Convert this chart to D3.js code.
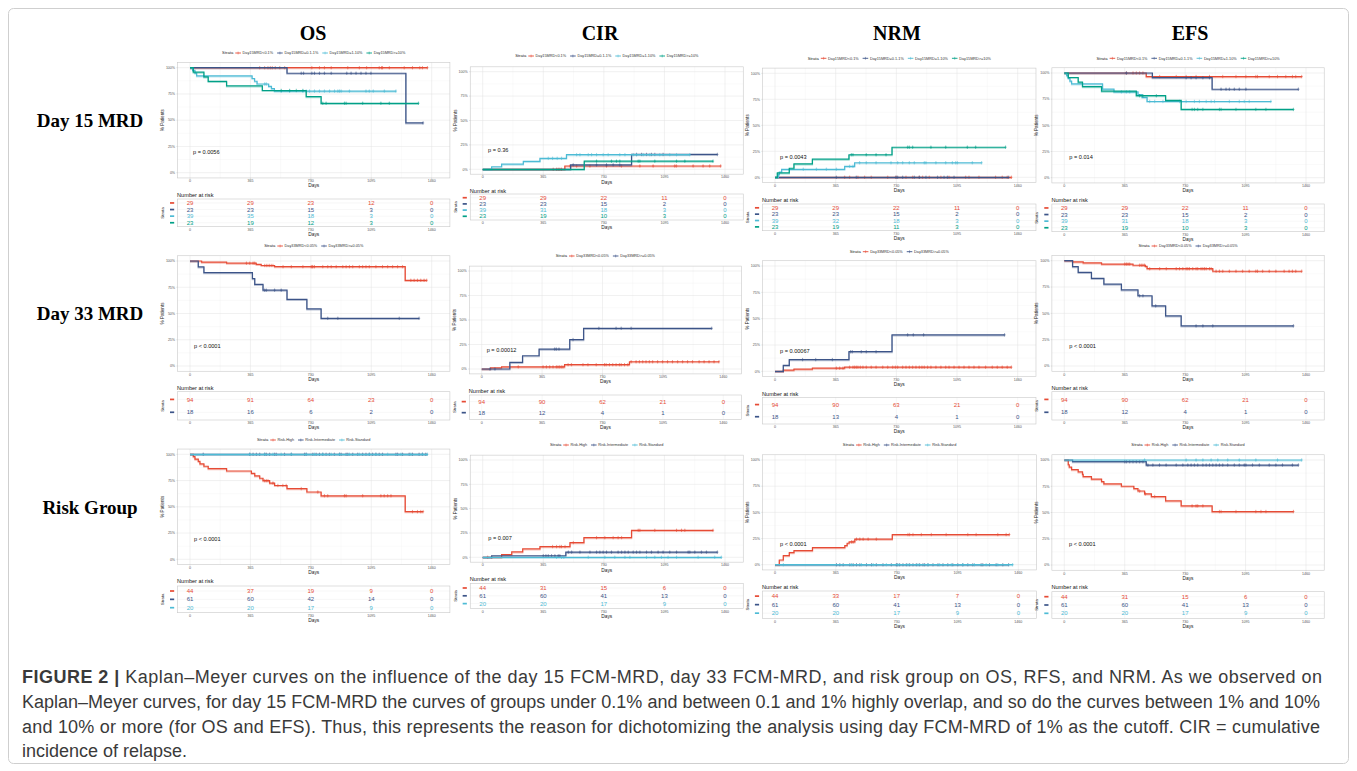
<!DOCTYPE html>
<html><head><meta charset="utf-8">
<script src="https://cdn.jsdelivr.net/npm/d3@7"></script>
<style>body{margin:0;background:#fff}</style>
</head><body>
<svg id="c" width="1357" height="771" xmlns="http://www.w3.org/2000/svg"></svg>
<script>
// ---------------- DATA ----------------
const columnTitles = ["OS", "CIR", "NRM", "EFS"];
const rowTitles = ["Day 15 MRD", "Day 33 MRD", "Risk Group"];
const strata15 = ["Day15MRD<0.1%", "Day15MRD=0.1-1%", "Day15MRD=1-10%", "Day15MRD>=10%"];
const strata33 = ["Day33MRD<0.05%", "Day33MRD>=0.05%"];
const strataRisk = ["Risk-High", "Risk-Intermediate", "Risk-Standard"];
const colors15 = ["#E64B35", "#3C5488", "#4DBBD5", "#00A087"];
const colors33 = ["#E64B35", "#3C5488"];
const colorsRisk = ["#E64B35", "#3C5488", "#4DBBD5"];
const timeTicks = [0, 365, 730, 1095, 1460];
const pctTicks = [0, 25, 50, 75, 100];
const pctLabels = ["0%", "25%", "50%", "75%", "100%"];
const pValues = ["p = 0.0056", "p = 0.36", "p = 0.0043", "p = 0.014",
                 "p < 0.0001", "p = 0.00012", "p = 0.00067", "p < 0.0001",
                 "p < 0.0001", "p = 0.007", "p < 0.0001", "p < 0.0001"];

// number at risk at 0,365,730,1095,1460
const risk_os15  = [[29,29,23,12,0],[23,23,15,3,0],[39,35,18,3,0],[23,19,12,3,0]];
const risk_cir15 = [[29,29,22,11,0],[23,23,15,2,0],[39,31,18,3,0],[23,19,10,3,0]];
const risk_nrm15 = [[29,29,22,11,0],[23,23,15,2,0],[39,32,18,3,0],[23,19,11,3,0]];
const risk_efs15 = [[29,29,22,11,0],[23,23,15,2,0],[39,31,18,3,0],[23,19,10,3,0]];
const risk_os33  = [[94,91,64,23,0],[18,16,6,2,0]];
const risk_cir33 = [[94,90,62,21,0],[18,12,4,1,0]];
const risk_nrm33 = [[94,90,63,21,0],[18,13,4,1,0]];
const risk_efs33 = [[94,90,62,21,0],[18,12,4,1,0]];
const risk_osR   = [[44,37,19,9,0],[61,60,42,14,0],[20,20,17,9,0]];
const risk_cirR  = [[44,31,15,6,0],[61,60,41,13,0],[20,20,17,9,0]];
const risk_nrmR  = [[44,33,17,7,0],[61,60,41,13,0],[20,20,17,9,0]];
const risk_efsR  = [[44,31,15,6,0],[61,60,41,13,0],[20,20,17,9,0]];

// curves: steps [day, %], end day, censor days
const os15 = [
 {steps:[], end:1434, cens:[421,451,471,485,497,515,542,572,736,782,812,853,953,1023,1067,1143,1157,1163,1204,1294,1344,1388,1404,1434]},
 {steps:[[586,94.7],[1304,47.4]], end:1408, cens:[672,686,736,752,782,812,853,947,973,1003,1033,1063,1093,1408]},
 {steps:[[16,97.4],[30,94.9],[40,92.3],[375,89.7],[390,87.1],[405,84.5],[475,82.2],[492,80.0],[510,77.7]], end:1244, cens:[451,461,551,602,682,702,722,752,782,812,843,873,893,903,913,963,1063,1083,1107,1174,1244]},
 {steps:[[20,95.7],[84,91.3],[110,87.0],[221,82.6],[437,78.3],[702,72.5],[792,66.1]], end:1380, cens:[551,602,642,682,802,822,933,943,1043,1153,1204,1380]}
];
const cir15 = [
 {steps:[[495,3.4]], end:1434, cens:[425,445,455,465,475,526,566,646,746,836,947,1027,1157,1167,1268,1328,1368,1434]},
 {steps:[[530,4.5],[897,15.2]], end:1414, cens:[545,686,746,786,826,927,957,987,1017,1037,1087,1414]},
 {steps:[[54,2.6],[114,5.3],[245,8.1],[345,11.2],[505,15.0]], end:1248, cens:[395,421,449,475,566,586,636,656,686,726,756,826,857,907,927,967,1007,1067,1127,1168,1248]},
 {steps:[[612,8.3]], end:1388, cens:[686,776,806,826,937,947,1037,1168,1218,1388]}
];
const nrm15 = [
 {steps:[], end:1422, cens:[419,449,499,539,579,678,728,788,828,868,888,928,998,1047,1147,1167,1227,1327,1367,1397,1422]},
 {steps:[], end:1406, cens:[369,489,728,738,768,838,868,908,978,1017,1037,1077,1406]},
 {steps:[[20,2.6],[26,5.1],[40,7.7],[419,10.5],[479,14.0]], end:1243, cens:[170,249,309,369,449,469,509,549,608,698,738,768,808,838,898,908,968,1027,1067,1087,1097,1187,1243]},
 {steps:[[14,4.3],[86,8.7],[114,13.0],[225,17.4],[445,21.7],[704,28.9]], end:1387, cens:[459,469,549,608,668,798,808,828,938,1027,1157,1207,1387]}
];
const efs15 = [
 {steps:[[495,96.6]], end:1434, cens:[375,415,435,455,475,576,676,736,796,877,957,1037,1097,1157,1167,1238,1288,1338,1378,1398,1434]},
 {steps:[[532,95.5],[893,84.5]], end:1414, cens:[375,736,766,796,837,877,947,977,997,1027,1057,1097,1414]},
 {steps:[[14,97.4],[24,94.9],[34,92.3],[44,89.7],[231,84.6],[300,82.0],[445,79.4],[470,76.8],[500,72.8]], end:1248, cens:[345,375,395,516,546,596,696,736,786,816,857,887,907,997,1057,1087,1117,1248]},
 {steps:[[24,95.7],[84,91.3],[110,87.0],[225,82.6],[435,78.3],[612,73.9],[706,65.2]], end:1384, cens:[455,475,556,772,786,806,837,937,947,1037,1157,1218,1384]}
];
const os33 = [
 {steps:[[70,98.9],[221,97.9],[400,96.8],[430,95.7],[511,94.6],[1300,81.6]], end:1430, cens:[341,361,381,391,451,461,471,481,491,501,562,612,682,732,738,742,752,802,832,853,883,923,943,963,983,1023,1043,1063,1083,1123,1163,1194,1224,1254,1284,1334,1354,1374,1394,1414,1430]},
 {steps:[[50,94.4],[84,88.9],[377,83.3],[391,77.8],[441,72.2],[586,63.5],[706,54.5],[792,45.4]], end:1384, cens:[451,461,511,551,832,893,1264,1384]}
];
const cir33 = [
 {steps:[[54,1.1],[120,2.2],[501,4.4],[893,7.4]], end:1434, cens:[221,371,391,411,431,451,461,471,481,491,522,542,612,642,692,742,752,772,792,812,832,843,863,883,903,933,953,973,993,1013,1033,1063,1093,1123,1153,1184,1214,1244,1274,1314,1344,1374,1404,1434]},
 {steps:[[170,6.8],[247,13.5],[347,20.3],[532,30.0],[616,41.5]], end:1390, cens:[50,80,441,451,467,552,708,812,843,903,1390]}
];
const nrm33 = [
 {steps:[[50,1.1],[114,2.1],[225,3.0],[419,3.9]], end:1422, cens:[369,389,409,449,469,479,489,499,513,529,549,579,608,648,678,708,724,738,768,788,808,828,848,868,884,898,918,938,968,998,1027,1047,1077,1107,1137,1167,1197,1227,1267,1307,1337,1367,1397,1422]},
 {steps:[[50,5.6],[86,11.1],[445,18.6],[704,34.6]], end:1381, cens:[166,245,345,455,465,519,549,608,798,832,894,1381]}
];
const efs33 = [
 {steps:[[50,98.9],[114,97.9],[225,96.8],[415,95.7],[490,94.6],[500,92.4],[897,90.0]], end:1434, cens:[365,375,385,395,455,465,475,485,516,576,616,676,696,716,736,746,756,776,796,806,826,837,847,857,877,887,917,937,957,997,1037,1077,1117,1157,1167,1198,1238,1278,1328,1358,1378,1398,1434]},
 {steps:[[50,94.4],[84,88.9],[164,83.3],[239,77.8],[345,72.2],[445,66.7],[530,57.1],[612,47.6],[706,38.1]], end:1384, cens:[455,475,552,796,837,897,1384]}
];
const osRisk = [
 {steps:[[20,97.7],[30,95.5],[50,93.2],[60,90.9],[84,88.6],[110,86.4],[221,84.1],[371,81.8],[391,79.5],[421,77.2],[441,74.9],[481,72.6],[511,70.3],[586,67.3],[706,64.1],[792,60.5],[1300,45.4]], end:1408, cens:[451,461,471,501,531,561,581,672,772,812,832,933,943,1043,1153,1173,1194,1214,1344,1374,1394,1408]},
 {steps:[], end:1434, cens:[80,361,381,401,421,451,461,481,511,521,571,612,692,702,742,762,782,802,822,842,872,903,913,943,953,983,1013,1043,1063,1083,1103,1123,1143,1163,1244,1254,1284,1324,1344,1384,1404,1424]},
 {steps:[], end:1434, cens:[361,451,501,551,612,702,752,802,853,903,963,1023,1083,1123,1194,1274,1334,1404,1434]}
];
const cirRisk = [
 {steps:[[114,2.7],[175,5.5],[241,8.6],[345,11.0],[526,15.1],[610,20.2],[897,27.7]], end:1388, cens:[30,54,421,445,465,475,496,546,686,736,786,816,837,937,947,1037,1168,1198,1218,1388]},
 {steps:[[54,1.6],[501,5.3]], end:1414, cens:[365,381,395,415,435,455,465,516,536,586,646,686,706,726,746,776,816,837,857,877,907,927,947,987,1017,1057,1087,1127,1168,1238,1248,1278,1318,1348,1414]},
 {steps:[], end:1438, cens:[445,475,489,636,736,796,857,887,987,1037,1077,1117,1168,1298,1398,1438]}
];
const nrmRisk = [
 {steps:[[26,4.5],[50,8.7],[86,11.5],[114,13.5],[225,16.3],[419,18.3],[433,20.5],[445,21.8],[479,24.4],[704,28.8]], end:1406, cens:[459,469,489,509,529,559,608,798,808,828,878,938,1027,1157,1207,1337,1387,1406]},
 {steps:[], end:1402, cens:[369,389,409,449,469,489,509,549,579,608,648,698,728,733,748,768,788,808,828,848,868,888,898,918,948,978,1008,1037,1067,1097,1127,1157,1187,1237,1247,1287,1327,1367,1402]},
 {steps:[], end:1426, cens:[50,459,519,589,668,738,798,858,918,988,1058,1127,1197,1267,1337,1426]}
];
const efsRisk = [
 {steps:[[24,95.5],[30,93.2],[44,90.9],[84,88.6],[110,86.4],[114,84.1],[164,81.8],[225,79.5],[239,77.3],[345,75.0],[420,72.7],[445,70.5],[485,67.8],[526,65.2],[612,61.0],[706,56.3],[893,50.9]], end:1384, cens:[455,490,546,772,796,806,837,937,947,1037,1157,1188,1218,1384]},
 {steps:[[50,98.4],[495,95.2]], end:1414, cens:[365,375,395,415,435,455,475,505,535,575,615,676,716,746,766,786,806,837,857,877,897,917,937,957,987,1027,1057,1087,1097,1137,1178,1238,1278,1318,1378,1414]},
 {steps:[], end:1434, cens:[485,736,796,837,887,927,987,1057,1157,1288,1434]}
];

const captionLines = [
 "Kaplan\u2013Meyer curves on the influence of the day 15 FCM-MRD, day 33 FCM-MRD, and risk group on OS, RFS, and NRM. As we observed on",
 "Kaplan\u2013Meyer curves, for day 15 FCM-MRD the curves of groups under 0.1% and between 0.1 and 1% highly overlap, and so do the curves between 1% and 10%",
 "and 10% or more (for OS and EFS). Thus, this represents the reason for dichotomizing the analysis using day FCM-MRD of 1% as the cutoff. CIR = cumulative",
 "incidence of relapse."
];

// ---------------- LAYOUT ----------------
const layout = [
 {x0:190, x1:431.7, yT:67.7, yB:172.7, legY:53, tabT:199, tabB:226.7, natY:195, pX:193, pY:151.7},
 {x0:482.7, x1:725, yT:71.7, yB:169.3, legY:56, tabT:194, tabB:220, natY:190.7, pX:488, pY:150},
 {x0:775, x1:1017.7, yT:73.3, yB:177.3, legY:58.3, tabT:204, tabB:230.7, natY:200, pX:780, pY:157.3},
 {x0:1064.3, x1:1306, yT:73, yB:177.7, legY:58.3, tabT:204, tabB:231.7, natY:200, pX:1069.3, pY:157.3},
 {x0:190, x1:431.7, yT:261, yB:366, legY:246, tabT:391.7, tabB:420, natY:387.7, pX:194, pY:346},
 {x0:481.7, x1:723.3, yT:271, yB:369, legY:256, tabT:395, tabB:419.3, natY:390.7, pX:486.7, pY:350},
 {x0:775, x1:1017.7, yT:266, yB:371.3, legY:251.7, tabT:397.3, tabB:424, natY:394, pX:780, pY:350.7},
 {x0:1064.3, x1:1306, yT:260.7, yB:366, legY:246, tabT:391.7, tabB:420, natY:387.7, pX:1069.3, pY:346},
 {x0:190, x1:431.7, yT:454.3, yB:559.3, legY:440, tabT:586, tabB:612.7, natY:581, pX:194, pY:539},
 {x0:482.7, x1:725, yT:460, yB:557.3, legY:445, tabT:583.3, tabB:608.3, natY:579.3, pX:488.3, pY:538.3},
 {x0:775, x1:1018.3, yT:460, yB:564.7, legY:445, tabT:591, tabB:618.3, natY:586.7, pX:780, pY:544},
 {x0:1064.3, x1:1306, yT:460, yB:565, legY:445, tabT:591.7, tabB:618.3, natY:586.7, pX:1069, pY:544.3}
];

const panelCurves = [os15, cir15, nrm15, efs15, os33, cir33, nrm33, efs33, osRisk, cirRisk, nrmRisk, efsRisk];
const panelRisk = [risk_os15, risk_cir15, risk_nrm15, risk_efs15, risk_os33, risk_cir33, risk_nrm33, risk_efs33, risk_osR, risk_cirR, risk_nrmR, risk_efsR];
const rowStrata = [strata15, strata33, strataRisk];
const rowColors = [colors15, colors33, colorsRisk];

// ---------------- DRAW ----------------
const svg = d3.select("#c");
const SANS = "'Liberation Sans', Arial, sans-serif";
const SERIF = "'Liberation Serif', 'Times New Roman', serif";

svg.append("rect").attr("x",0).attr("y",0).attr("width",1357).attr("height",771).attr("fill","#fff");
svg.append("rect").attr("x",8.5).attr("y",8.5).attr("width",1340).attr("height",755).attr("rx",5)
  .attr("fill","none").attr("stroke","#cfcfcf").attr("stroke-width",1);

// column titles
const colCenters = [313, 600, 897, 1190];
columnTitles.forEach((t,i)=>{
  svg.append("text").attr("x",colCenters[i]).attr("y",40).attr("text-anchor","middle")
    .attr("font-family",SERIF).attr("font-weight","bold").attr("font-size",20).attr("fill","#000").text(t);
});
const rowCenters = [127, 320, 514];
rowTitles.forEach((t,i)=>{
  svg.append("text").attr("x",90).attr("y",rowCenters[i]).attr("text-anchor","middle")
    .attr("font-family",SERIF).attr("font-weight","bold").attr("font-size",19).attr("fill","#000").text(t);
});

function levelAt(s, t, start){
  let v = start;
  for (const [d,val] of s.steps){ if (d <= t) v = val; }
  return v;
}

function drawPanel(idx){
  const L = layout[idx];
  const row = Math.floor(idx/4), col = idx%4;
  const strata = rowStrata[row], colors = rowColors[row];
  const curves = panelCurves[idx], risk = panelRisk[idx];
  const start = (col===0 || col===3) ? 100 : 0;
  const g = svg.append("g");
  const x = d3.scaleLinear().domain([0,1460]).range([L.x0, L.x1]);
  const y = d3.scaleLinear().domain([0,100]).range([L.yB, L.yT]);
  const left = x(-75), right = x(1570), top = y(105), bot = y(-5);

  // grid
  const minorX = [182.5, 547.5, 912.5, 1277.5];
  const minorY = [12.5, 37.5, 62.5, 87.5];
  g.selectAll(null).data(minorX).enter().append("line")
    .attr("x1",d=>x(d)).attr("x2",d=>x(d)).attr("y1",top).attr("y2",bot)
    .attr("stroke","#f1f1f1").attr("stroke-width",0.35);
  g.selectAll(null).data(minorY).enter().append("line")
    .attr("y1",d=>y(d)).attr("y2",d=>y(d)).attr("x1",left).attr("x2",right)
    .attr("stroke","#f1f1f1").attr("stroke-width",0.35);
  g.selectAll(null).data(timeTicks).enter().append("line")
    .attr("x1",d=>x(d)).attr("x2",d=>x(d)).attr("y1",top).attr("y2",bot)
    .attr("stroke","#e3e3e3").attr("stroke-width",0.5);
  g.selectAll(null).data(pctTicks).enter().append("line")
    .attr("y1",d=>y(d)).attr("y2",d=>y(d)).attr("x1",left).attr("x2",right)
    .attr("stroke","#e3e3e3").attr("stroke-width",0.5);
  g.append("rect").attr("x",left).attr("y",top).attr("width",right-left).attr("height",bot-top)
    .attr("fill","none").attr("stroke","#c9c9c9").attr("stroke-width",0.6);

  // ticks
  g.selectAll(null).data(pctTicks).enter().append("line")
    .attr("x1",left-1.2).attr("x2",left).attr("y1",d=>y(d)).attr("y2",d=>y(d))
    .attr("stroke","#bbb").attr("stroke-width",0.4);
  g.selectAll(null).data(timeTicks).enter().append("line")
    .attr("x1",d=>x(d)).attr("x2",d=>x(d)).attr("y1",bot).attr("y2",bot+1.2)
    .attr("stroke","#bbb").attr("stroke-width",0.4);
  g.selectAll(null).data(pctTicks).enter().append("text")
    .attr("x",left-2.5).attr("y",d=>y(d)).attr("dy","0.35em").attr("text-anchor","end")
    .attr("font-family",SANS).attr("font-size",3.6).attr("fill","#555").text((d,i)=>pctLabels[i]);
  g.selectAll(null).data(timeTicks).enter().append("text")
    .attr("x",d=>x(d)).attr("y",bot+4.3).attr("text-anchor","middle")
    .attr("font-family",SANS).attr("font-size",3.6).attr("fill","#555").text(d=>d);
  g.append("text").attr("x",(left+right)/2).attr("y",bot+9.5).attr("text-anchor","middle")
    .attr("font-family",SANS).attr("font-size",4.8).attr("fill","#222").text("Days");
  g.append("text").attr("transform",`translate(${left-13.5},${(top+bot)/2}) rotate(-90)`)
    .attr("text-anchor","middle").attr("font-family",SANS).attr("font-size",4.6).attr("fill","#222").text("% Patients");

  // curves
  const line = d3.line().x(d=>x(d[0])).y(d=>y(d[1])).curve(d3.curveStepAfter);
  curves.forEach((s,i)=>{
    const pts = [[0,start], ...s.steps, [s.end, s.steps.length ? s.steps[s.steps.length-1][1] : start]];
    g.append("path").attr("d",line(pts)).attr("fill","none").attr("stroke",colors[i])
      .attr("stroke-width",1.4).attr("opacity",0.35).attr("transform","translate(0,0.9)");
    g.append("path").attr("d",line(pts)).attr("fill","none").attr("stroke",colors[i])
      .attr("stroke-width",1.2);
    const cg = g.append("g").attr("stroke",colors[i]).attr("stroke-width",0.55);
    s.cens.forEach(t=>{
      const cx = x(t), cy = y(levelAt(s,t,start));
      cg.append("line").attr("x1",cx).attr("x2",cx).attr("y1",cy-1.7).attr("y2",cy+1.7);
      cg.append("line").attr("x1",cx-1.1).attr("x2",cx+1.1).attr("y1",cy).attr("y2",cy);
    });
  });

  // p value
  g.append("text").attr("x",L.pX).attr("y",L.pY).attr("dy","0.35em")
    .attr("font-family",SANS).attr("font-size",5.6).attr("fill","#111").text(pValues[idx]);

  // legend (centered over panel)
  const lg = g.append("g");
  let cx = 0;
  const st = lg.append("text").attr("x",0).attr("y",L.legY).attr("dy","0.35em")
    .attr("font-family",SANS).attr("font-size",4.2).attr("fill","#222").text("Strata");
  cx = st.node().getComputedTextLength() + 2;
  strata.forEach((lab,i)=>{
    lg.append("line").attr("x1",cx).attr("x2",cx+5.6).attr("y1",L.legY).attr("y2",L.legY)
      .attr("stroke",colors[i]).attr("stroke-width",0.9);
    lg.append("line").attr("x1",cx+2.8).attr("x2",cx+2.8).attr("y1",L.legY-1.4).attr("y2",L.legY+1.4)
      .attr("stroke",colors[i]).attr("stroke-width",0.5);
    const t = lg.append("text").attr("x",cx+7.3).attr("y",L.legY).attr("dy","0.35em")
      .attr("font-family",SANS).attr("font-size",3.8).attr("fill","#333").text(lab);
    cx += 7.3 + t.node().getComputedTextLength() + 4;
  });
  const lw = cx - 4;
  lg.attr("transform",`translate(${(left+right)/2 - lw/2},0)`);

  // risk table
  const yr = d3.scalePoint().domain(d3.range(strata.length)).range([L.tabT, L.tabB]).padding(0.6);
  g.selectAll(null).data(timeTicks).enter().append("line")
    .attr("x1",d=>x(d)).attr("x2",d=>x(d)).attr("y1",L.tabT).attr("y2",L.tabB)
    .attr("stroke","#ececec").attr("stroke-width",0.45);
  g.selectAll(null).data(d3.range(strata.length)).enter().append("line")
    .attr("y1",d=>yr(d)).attr("y2",d=>yr(d)).attr("x1",left).attr("x2",right)
    .attr("stroke","#ececec").attr("stroke-width",0.45);
  g.append("rect").attr("x",left).attr("y",L.tabT).attr("width",right-left).attr("height",L.tabB-L.tabT)
    .attr("fill","none").attr("stroke","#c9c9c9").attr("stroke-width",0.6);
  g.append("text").attr("x",left-0.5).attr("y",L.natY).attr("dy","0.35em")
    .attr("font-family",SANS).attr("font-size",5.6).attr("fill","#111").text("Number at risk");
  risk.forEach((r,i)=>{
    g.append("line").attr("x1",left-7.6).attr("x2",left-3.4).attr("y1",yr(i)).attr("y2",yr(i))
      .attr("stroke",colors[i]).attr("stroke-width",1.7);
    r.forEach((n,j)=>{
      g.append("text").attr("x",x(timeTicks[j])).attr("y",yr(i)).attr("dy","0.35em").attr("text-anchor","middle")
        .attr("font-family",SANS).attr("font-size",6).attr("fill",colors[i]).text(n);
    });
  });
  g.append("text").attr("transform",`translate(${left-13.5},${(L.tabT+L.tabB)/2}) rotate(-90)`)
    .attr("text-anchor","middle").attr("font-family",SANS).attr("font-size",4.4).attr("fill","#222").text("Strata");
  g.selectAll(null).data(timeTicks).enter().append("text")
    .attr("x",d=>x(d)).attr("y",L.tabB+4.2).attr("text-anchor","middle")
    .attr("font-family",SANS).attr("font-size",3.6).attr("fill","#555").text(d=>d);
  g.append("text").attr("x",(left+right)/2).attr("y",L.tabB+9.2).attr("text-anchor","middle")
    .attr("font-family",SANS).attr("font-size",4.8).attr("fill","#222").text("Days");
}

for (let i=0;i<12;i++) drawPanel(i);

// caption: size chosen so the first line spans the same width as the reference
const CAP = "'Liberation Sans', Arial, sans-serif";
const capY = [683, 708, 733, 757];
const capW = [1300, 1298, 1298, null];
const probe = svg.append("text").attr("font-family",CAP).attr("font-size",16);
probe.append("tspan").attr("font-weight","bold").text("FIGURE 2 | ");
probe.append("tspan").text(captionLines[0]);
const natural = probe.node().getComputedTextLength();
probe.remove();
const capSize = Math.min(18, 16 * 1300 / natural);
captionLines.forEach((ln,i)=>{
  const t = svg.append("text").attr("x",22).attr("y",capY[i])
    .attr("font-family",CAP).attr("font-size",capSize).attr("fill","#3a3a3a");
  if (i===0){
    t.append("tspan").attr("font-weight","bold").text("FIGURE 2 | ");
  }
  t.append("tspan").text(ln);
  if (capW[i]) t.attr("textLength",capW[i]).attr("lengthAdjust","spacing");
});
</script>
</body></html>
